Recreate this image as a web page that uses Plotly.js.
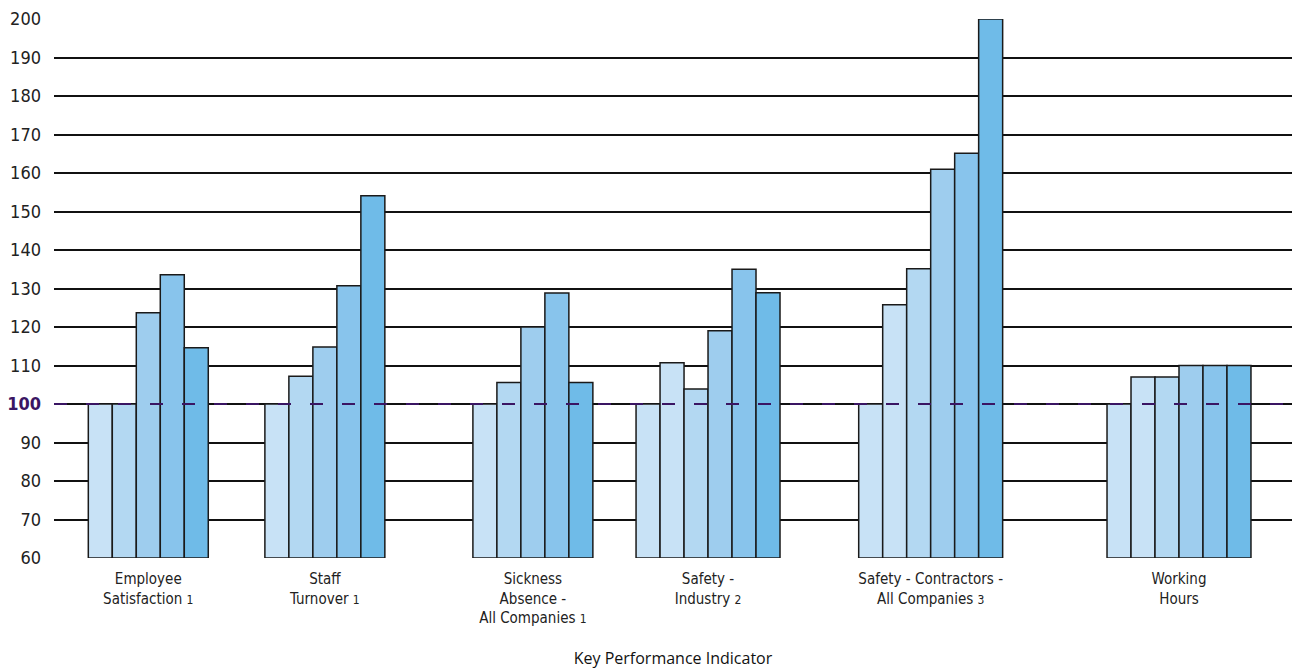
<!DOCTYPE html>
<html>
<head>
<meta charset="utf-8">
<script src="https://cdn.plot.ly/plotly-3.0.1.min.js"></script>
<style>
  html, body { margin: 0; padding: 0; background: #fff; }
  #chart { width: 1304px; height: 672px; }
</style>
</head>
<body>
<div id="chart"></div>
<script>
// ---------- DATA ----------
var categories = [
  "Employee<br>Satisfaction <span style='font-size:12px'>1</span>",
  "Staff<br>Turnover <span style='font-size:12px'>1</span>",
  "Sickness<br>Absence -<br>All Companies <span style='font-size:12px'>1</span>",
  "Safety -<br>Industry <span style='font-size:12px'>2</span>",
  "Safety - Contractors -<br>All Companies <span style='font-size:12px'>3</span>",
  "Working<br>Hours"
];
var employeeSatisfaction = [100, 100, 123.7, 133.6, 114.6];
var staffTurnover        = [100, 107.2, 114.8, 130.7, 154.1];
var sicknessAbsence      = [100, 105.6, 120.0, 128.8, 105.6];
var safetyIndustry       = [100, 110.7, 103.9, 119.0, 135.0, 128.9];
var safetyContractors    = [100, 125.8, 135.1, 161.0, 165.1, 200];
var workingHours         = [100, 107.0, 107.0, 110, 110, 110];
var yTickValues = [60, 70, 80, 90, 100, 110, 120, 130, 140, 150, 160, 170, 180, 190, 200];
var referenceValue = 100;

// ---------- STYLE / LAYOUT ----------
var seriesValues = [employeeSatisfaction, staffTurnover, sicknessAbsence,
                    safetyIndustry, safetyContractors, workingHours];
var groupOffsets = [1.43, 8.79, 17.46, 24.26, 33.54, 43.89]; // start of each group, in bar widths
var xRangeMax = 51.6;
var palette5 = ['#c8e2f6', '#b3d8f2', '#9ecdee', '#88c4ec', '#6fbbe8'];
var palette6 = ['#c8e2f6', '#c8e2f6', '#b3d8f2', '#9ecdee', '#88c4ec', '#6fbbe8'];

var traces = [];
var tickvals = [];
seriesValues.forEach(function (vals, g) {
  var xs = vals.map(function (v, j) { return groupOffsets[g] + j + 0.5; });
  traces.push({
    type: 'bar',
    x: xs,
    y: vals.map(function (v) { return v - 60; }),
    base: 60,
    width: 1,
    marker: {
      color: vals.length === 6 ? palette6 : palette5,
      line: { color: '#1a1a1a', width: 1.5 }
    },
    hoverinfo: 'y',
    showlegend: false
  });
  tickvals.push(groupOffsets[g] + vals.length / 2);
});

var yTickText = yTickValues.map(function (v) {
  return v === referenceValue
    ? "<b><span style='color:#3a1563'>" + v + "</span></b>"
    : String(v);
});

var layout = {
  width: 1304,
  height: 672,
  margin: { l: 54, r: 12, t: 19, b: 114 },
  paper_bgcolor: '#ffffff',
  plot_bgcolor: '#ffffff',
  bargap: 0,
  showlegend: false,
  font: { family: "'Liberation Sans Narrow', 'DejaVu Sans Condensed', sans-serif", color: '#222' },
  xaxis: {
    range: [0, xRangeMax],
    tickmode: 'array',
    tickvals: tickvals,
    ticktext: categories,
    ticks: '',
    ticklabelstandoff: 10,
    showgrid: false,
    zeroline: false,
    showline: false,
    automargin: false,
    tickfont: { size: 15, family: "'Liberation Sans Narrow', 'DejaVu Sans Condensed', sans-serif", color: '#222' },
    title: {
      text: 'Key Performance Indicator',
      font: { size: 16, family: "'Open Sans', 'Noto Sans', sans-serif", color: '#111' },
      standoff: 26
    }
  },
  yaxis: {
    range: [60, 200],
    tickmode: 'array',
    tickvals: yTickValues,
    ticktext: yTickText,
    ticks: '',
    ticklabelstandoff: 12,
    showgrid: true,
    gridcolor: '#111111',
    gridwidth: 2,
    zeroline: false,
    showline: false,
    automargin: false,
    tickfont: { size: 18, family: "'Liberation Sans Narrow', 'DejaVu Sans Condensed', sans-serif", color: '#222' }
  },
  shapes: [{
    type: 'line',
    xref: 'paper', yref: 'y',
    x0: 0, x1: 1,
    y0: referenceValue, y1: referenceValue,
    layer: 'above',
    line: { color: '#3a1563', width: 2, dash: '13px,19px' }
  }]
};

Plotly.newPlot('chart', traces, layout, { displayModeBar: false, staticPlot: true });
</script>
</body>
</html>
